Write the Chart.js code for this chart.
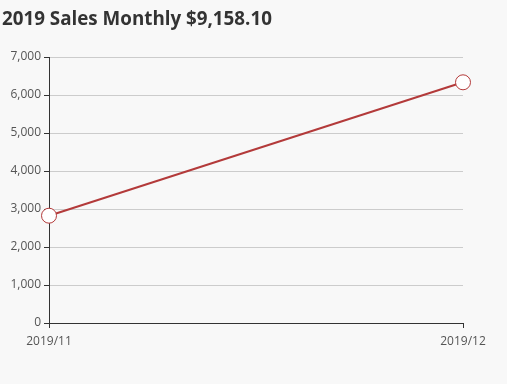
<!DOCTYPE html>
<html>
<head>
<meta charset="utf-8">
<script src="https://cdn.jsdelivr.net/npm/chart.js@4"></script>
<style>
  html, body { margin: 0; padding: 0; background: #f8f8f8; }
  #wrap { position: relative; width: 507px; height: 384px; }
  #title {
    position: absolute; left: 2px; top: 5px;
    font: bold 18.8px "Open Sans", sans-serif; color: #333;
  }
</style>
</head>
<body>
<div id="wrap">
  <div id="title">2019 Sales Monthly $9,158.10</div>
  <canvas id="chart" width="507" height="384"></canvas>
</div>
<script>
const months = ["2019/11", "2019/12"];
const sales = [2824.0, 6334.1];
const yTicks = [0, 1000, 2000, 3000, 4000, 5000, 6000, 7000];

const ctx = document.getElementById("chart").getContext("2d");

new Chart(ctx, {
  type: "line",
  data: {
    labels: months,
    datasets: [
      {
        label: "Sales",
        data: sales,
        borderColor: "#b33a3a",
        borderWidth: 2,
        tension: 0,
        pointRadius: 7.5,
        pointHoverRadius: 7.5,
        pointBackgroundColor: "#ffffff",
        pointBorderColor: "#b33a3a",
        pointBorderWidth: 1,
      },
    ],
  },
  options: {
    responsive: false,
    animation: false,
    layout: { padding: { top: 57, right: 44, bottom: 31, left: 0 } },
    plugins: {
      legend: { display: false },
      tooltip: { enabled: false },
    },
    scales: {
      x: {
        offset: false,
        grid: {
          display: true,
          drawOnChartArea: false,
          drawTicks: true,
          tickLength: 5,
          tickColor: "#333",
        },
        border: { display: true, color: "#333" },
        ticks: {
          color: "#555",
          font: { family: "Open Sans", size: 12 },
          padding: 6,
          maxRotation: 0,
        },
        afterFit: (scale) => { scale.height = 30; },
      },
      y: {
        min: yTicks[0],
        max: yTicks[yTicks.length - 1],
        afterBuildTicks: (scale) => {
          scale.ticks = yTicks.map((v) => ({ value: v }));
        },
        grid: {
          color: "#cccccc",
          tickLength: 5,
          tickColor: "#333",
        },
        border: { display: true, color: "#333" },
        ticks: {
          color: "#555",
          font: { family: "Open Sans", size: 12 },
          padding: 3,
          callback: (v) => v.toLocaleString("en-US"),
        },
        afterFit: (scale) => { scale.width = 49; },
      },
    },
  },
});
</script>
</body>
</html>
